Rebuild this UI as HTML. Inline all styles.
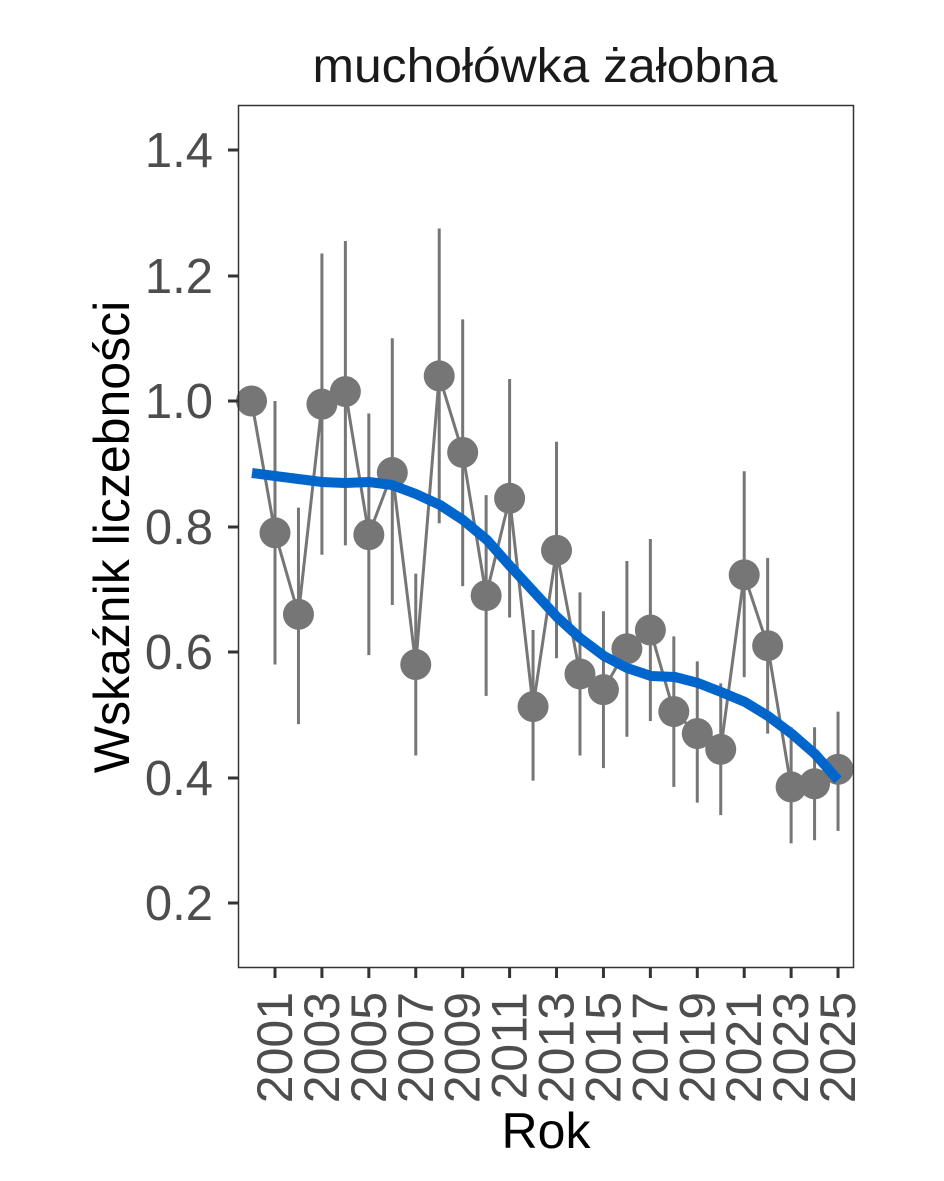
<!DOCTYPE html>
<html><head><meta charset="utf-8"><style>
html,body{margin:0;padding:0;background:#fff;}
svg{display:block;font-family:"Liberation Sans",Arial,sans-serif;}
</style></head><body>
<svg id="s" width="944" height="1181" viewBox="0 0 944 1181" xmlns="http://www.w3.org/2000/svg">
<rect width="944" height="1181" fill="#fff"/>
<text x="545" y="82" font-size="48" text-anchor="middle" fill="#1a1a1a" textLength="465" lengthAdjust="spacingAndGlyphs">muchołówka żałobna</text>
<g id="g"></g>
<rect x="238.5" y="105.5" width="615" height="862" fill="none" stroke="#333" stroke-width="1.5"/>
<g font-size="49" fill="#4d4d4d" text-anchor="end">
<text x="213" y="167">1.4</text>
<text x="213" y="293">1.2</text>
<text x="213" y="418">1.0</text>
<text x="213" y="544">0.8</text>
<text x="213" y="669">0.6</text>
<text x="213" y="795">0.4</text>
<text x="213" y="920">0.2</text>
</g>
<g stroke="#333" stroke-width="3">
<line x1="228" x2="238" y1="150" y2="150"/><line x1="228" x2="238" y1="276" y2="276"/>
<line x1="228" x2="238" y1="401" y2="401"/><line x1="228" x2="238" y1="527" y2="527"/>
<line x1="228" x2="238" y1="652" y2="652"/><line x1="228" x2="238" y1="778" y2="778"/>
<line x1="228" x2="238" y1="903" y2="903"/>
</g>
<g id="xt"></g>
<text x="546" y="1148" font-size="50" text-anchor="middle" fill="#000">Rok</text>
<text transform="translate(129,537) rotate(-90)" font-size="50" text-anchor="middle" fill="#000">Wskaźnik liczebności</text>
</svg>
<script>
function X(yr){return 275+(yr-2001)*23.46;}
function Y(v){return 401-(v-1)*627.5;}
var d=[[2000,1.0,null,null],[2001,0.79,0.58,1.0],[2002,0.66,0.485,0.83],[2003,0.995,0.755,1.235],[2004,1.015,0.77,1.255],[2005,0.787,0.595,0.98],[2006,0.886,0.675,1.10],[2007,0.58,0.435,0.725],[2008,1.04,0.805,1.275],[2009,0.918,0.705,1.13],[2010,0.69,0.53,0.85],[2011,0.845,0.655,1.035],[2012,0.513,0.395,0.635],[2013,0.762,0.59,0.935],[2014,0.565,0.435,0.695],[2015,0.54,0.415,0.665],[2016,0.605,0.465,0.745],[2017,0.635,0.49,0.78],[2018,0.505,0.385,0.625],[2019,0.47,0.36,0.585],[2020,0.445,0.34,0.55],[2021,0.723,0.56,0.888],[2022,0.61,0.47,0.75],[2023,0.385,0.295,0.48],[2024,0.39,0.3,0.48],[2025,0.413,0.315,0.505]];
var g=document.getElementById("g"),h="";
d.forEach(function(p){if(p[2]!==null)h+='<line x1="'+X(p[0])+'" x2="'+X(p[0])+'" y1="'+Y(p[2])+'" y2="'+Y(p[3])+'" stroke="#767676" stroke-width="3"/>';});
h+='<polyline fill="none" stroke="#767676" stroke-width="3" points="'+d.map(function(p){return X(p[0])+','+Y(p[1]);}).join(' ')+'"/>';
d.forEach(function(p){h+='<circle cx="'+X(p[0])+'" cy="'+Y(p[1])+'" r="15.5" fill="#767676"/>';});
var sm=[[252,473],[275,476],[322,482],[345,483],[369,482],[392,485],[416,494],[440,505],[463,520],[487,540],[510,566],[534,592],[557,617],[580,638],[604,656],[627,668],[651,676],[675,677],[698,683],[721,692],[745,702],[768,716],[792,734],[815,754],[838,780]];
h+='<polyline fill="none" stroke="#0066cc" stroke-width="10" stroke-linejoin="round" points="'+sm.map(function(p){return p.join(',');}).join(' ')+'"/>';
g.innerHTML=h;
var xt="";
for(var yr=2001;yr<=2025;yr+=2){var x=X(yr);
xt+='<line x1="'+x+'" x2="'+x+'" y1="968" y2="978" stroke="#333" stroke-width="3"/>';
xt+='<text transform="translate('+(x+17)+',992) rotate(-90)" font-size="50" text-anchor="end" fill="#4d4d4d">'+yr+'</text>';}
document.getElementById("xt").innerHTML=xt;
</script>
</body></html>
